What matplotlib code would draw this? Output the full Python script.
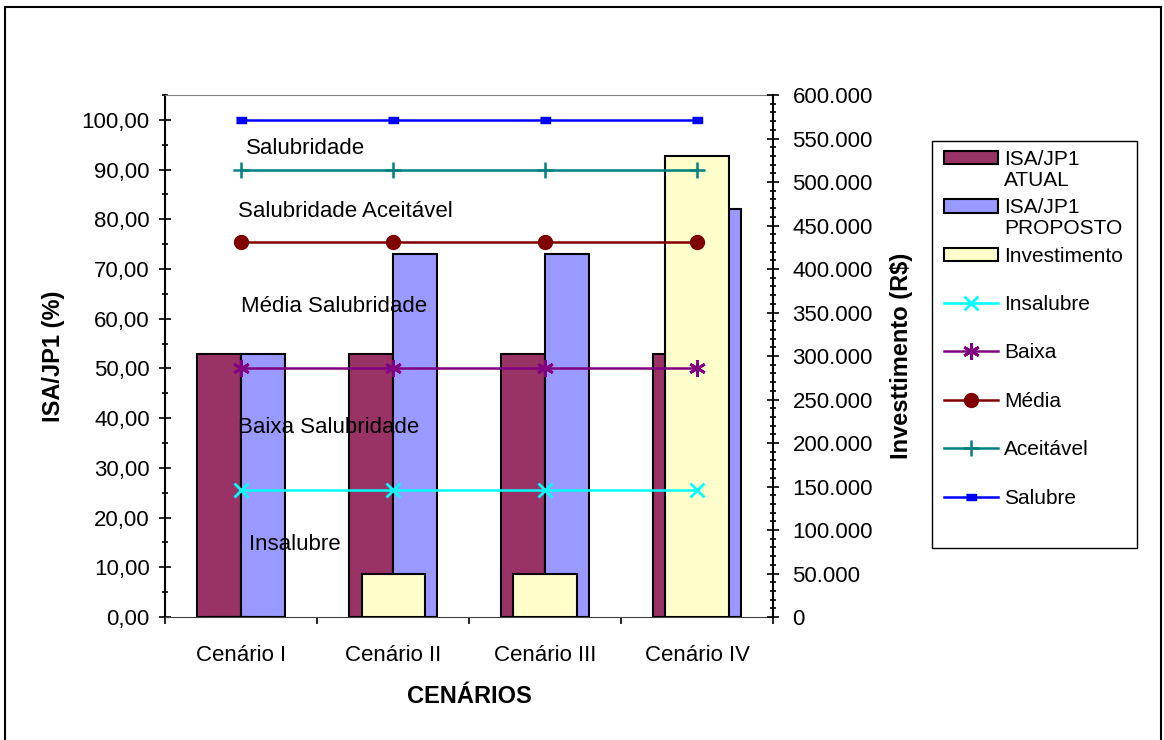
import matplotlib
matplotlib.use("Agg")
import matplotlib.pyplot as plt
import numpy as np
from matplotlib.patches import Rectangle
from matplotlib.text import Annotation
from matplotlib.ticker import MultipleLocator, FuncFormatter, FixedLocator

plt.rcParams['font.family'] = ['Liberation Sans', 'DejaVu Sans']

# scenarios on the x axis
cenarios = ['Cenário I', 'Cenário II', 'Cenário III', 'Cenário IV']

# ISA/JP1 index (%)
isa_atual = [53, 53, 53, 53]
isa_proposto = [53, 73, 73, 82]

# investment (R$), right axis
investimento = [0, 50000, 50000, 530000]

# reference levels of the salubrity scale (%)
insalubre = [25.5, 25.5, 25.5, 25.5]
baixa = [50, 50, 50, 50]
media = [75.5, 75.5, 75.5, 75.5]
aceitavel = [90, 90, 90, 90]
salubre = [100, 100, 100, 100]

# range labels written inside the plot: (text, x, y)
faixas = [
    ('Salubridade', 0.03, 94.2),
    ('Salubridade Aceitável', -0.02, 81.5),
    ('Média Salubridade', 0.0, 62.4),
    ('Baixa Salubridade', -0.02, 38.2),
    ('Insalubre', 0.05, 14.5),
]

x = np.arange(len(cenarios))
bw = 0.29

fig = plt.figure(figsize=(11.64, 7.40), dpi=100)
ax = fig.add_axes([0.1418, 0.1662, 0.5223, 0.7054])
ax2 = ax.twinx()
ax3 = ax.twinx()

b1 = ax.bar(x - bw / 2, isa_atual, bw, color='#993366', edgecolor='black', linewidth=1.5,
            label='ISA/JP1')
b2 = ax.bar(x + bw / 2, isa_proposto, bw, color='#9999FF', edgecolor='black', linewidth=1.5,
            label='ISA/JP1')
b3 = ax2.bar(x, investimento, 0.415, color='#FFFFCC', edgecolor='black', linewidth=1.5,
             label='Investimento')

rect_marker = [(-1, -0.55), (1, -0.55), (1, 0.55), (-1, 0.55)]
l1, = ax3.plot(x, insalubre, color='#00FFFF', lw=1.8, marker='x', ms=10, mew=2, label='Insalubre')
l2, = ax3.plot(x, baixa, color='#800080', lw=1.8, marker=(6, 2, 0), ms=12, mew=2, label='Baixa')
l3, = ax3.plot(x, media, color='#800000', lw=1.8, marker='o', ms=10, label='Média')
l4, = ax3.plot(x, aceitavel, color='#008080', lw=1.8, marker='+', ms=11, mew=1.8, label='Aceitável')
l5, = ax3.plot(x, salubre, color='#0000FF', lw=1.8, marker=rect_marker, ms=7, label='Salubre')

for txt, tx, ty in faixas:
    ax3.text(tx, ty, txt, fontsize=16, ha='left', va='center', color='black', zorder=10)

for a in (ax, ax2, ax3):
    a.set_xlim(-0.5, len(cenarios) - 0.5)
ax.set_ylim(0, 105)
ax3.set_ylim(0, 105)
ax2.set_ylim(0, 600000)

# left axis
ax.yaxis.set_major_locator(FixedLocator(np.arange(0, 101, 10)))
ax.yaxis.set_minor_locator(MultipleLocator(5))
ax.yaxis.set_major_formatter(FuncFormatter(lambda v, p: f"{v:.2f}".replace('.', ',')))
ax.tick_params(axis='y', which='major', direction='inout', length=8, width=1.2, pad=7, labelsize=16)
ax.tick_params(axis='y', which='minor', direction='inout', length=5, width=1.2)
ax.set_ylabel('ISA/JP1 (%)', fontsize=17, fontweight='bold', labelpad=12)

# x axis: labels at centres, ticks at category boundaries
ax.set_xticks(x)
ax.set_xticklabels(cenarios, fontsize=16)
ax.set_xticks(np.arange(-0.5, len(cenarios), 1), minor=True)
ax.tick_params(axis='x', which='major', length=0, pad=20)
ax.tick_params(axis='x', which='minor', direction='out', length=5, width=1.2)
ax.set_xlabel('CENÁRIOS', fontsize=17, fontweight='bold', labelpad=14)

# right axis
ax2.yaxis.set_major_locator(MultipleLocator(50000))
ax2.yaxis.set_minor_locator(MultipleLocator(10000))
ax2.yaxis.set_major_formatter(FuncFormatter(lambda v, p: f"{v:,.0f}".replace(',', '.')))
ax2.tick_params(axis='y', which='major', direction='inout', length=8, width=1.2, pad=10, labelsize=16)
ax2.tick_params(axis='y', which='minor', direction='inout', length=5, width=1.2)
ax2.set_ylabel('Investtimento (R$)', fontsize=17, fontweight='bold', labelpad=12)

ax.spines['top'].set_color('#808080')
ax.spines['bottom'].set_color('#404040')
ax.spines['left'].set_linewidth(1.5)
ax.spines['right'].set_visible(False)
for s in ('top', 'bottom', 'left'):
    ax2.spines[s].set_visible(False)
ax2.spines['right'].set_linewidth(1.5)
for s in ax3.spines.values():
    s.set_visible(False)
ax3.set_yticks([])
ax3.tick_params(axis='x', which='both', length=0, labelbottom=False)
ax2.tick_params(axis='x', which='both', length=0, labelbottom=False)

# legend
handles = [b1, b2, b3, l1, l2, l3, l4, l5]
labels = ['ISA/JP1', 'ISA/JP1', 'Investimento', 'Insalubre', 'Baixa', 'Média', 'Aceitável', 'Salubre']
leg = fig.legend(handles, labels, loc='upper left', bbox_to_anchor=(944 / 1164, 1 - 150 / 740),
                 frameon=False, fontsize=15, handlelength=2.6, handleheight=0.62,
                 handletextpad=0.3, labelspacing=1.41, borderpad=0, borderaxespad=0)
leg.set_zorder(5)
texts = leg.get_texts()
for t, second in ((texts[0], 'ATUAL'), (texts[1], 'PROPOSTO')):
    ann = Annotation(second, xy=(0, 0), xycoords=t, xytext=(0, -1.5), textcoords='offset points',
                     va='top', ha='left', fontsize=15)
    ann.set_zorder(6)
    fig.add_artist(ann)

# legend box and outer frame
fig.add_artist(Rectangle((932 / 1164, 1 - 548 / 740), 205 / 1164, 407 / 740,
                         transform=fig.transFigure, fill=False, edgecolor='black', lw=1))
fig.add_artist(Rectangle((5 / 1164, -0.02), 1156 / 1164, 1.02 - 7 / 740,
                         transform=fig.transFigure, fill=False, edgecolor='black', lw=1.5))

fig.savefig('out.png', dpi=100)
